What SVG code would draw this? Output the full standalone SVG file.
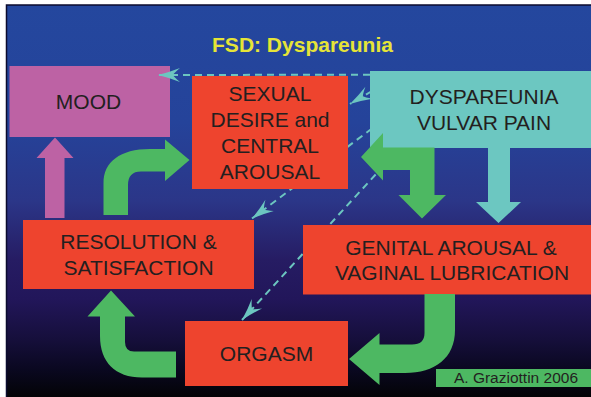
<svg xmlns="http://www.w3.org/2000/svg" width="591" height="397" viewBox="0 0 591 397">
<defs>
<linearGradient id="bg" x1="0" y1="5" x2="0" y2="397" gradientUnits="userSpaceOnUse">
<stop offset="0" stop-color="#24479e"/>
<stop offset="0.3" stop-color="#25439a"/>
<stop offset="0.5" stop-color="#2b3688"/>
<stop offset="0.65" stop-color="#261c63"/>
<stop offset="0.75" stop-color="#22165a"/>
<stop offset="0.85" stop-color="#160f3c"/>
<stop offset="0.93" stop-color="#0a0820"/>
<stop offset="1" stop-color="#030306"/>
</linearGradient>
<marker id="barb" markerUnits="userSpaceOnUse" markerWidth="30" markerHeight="20" viewBox="-24 -10 26 20" refX="0" refY="0" orient="auto" overflow="visible">
<path d="M0,0 Q-12,-3 -22,-7 Q-16,-2 -15,0 Q-16,2 -22,7 Q-12,3 0,0 Z" fill="#6cc6c0"/>
</marker>
<style>
.lbl{font-family:"Liberation Sans",Arial,sans-serif;font-size:21px;fill:#231f20;text-anchor:middle}
.red{fill:#ee442e}
.dash{fill:none;stroke:#6cc6c0;stroke-width:2;stroke-dasharray:7 5;marker-end:url(#barb)}
.green{fill:#4db862}
</style>
</defs>
<rect x="0" y="0" width="591" height="397" fill="#ffffff"/>
<rect x="6.5" y="5" width="590" height="397" fill="url(#bg)" stroke="#0b0b2e" stroke-width="1.5"/>
<text x="302.5" y="52" font-family="'Liberation Sans',Arial,sans-serif" font-size="21" font-weight="bold" fill="#e6e437" text-anchor="middle">FSD: Dyspareunia</text>

<g id="mood">
<rect x="9.5" y="66" width="160.5" height="71" fill="#bd62a4"/>
<text class="lbl" x="88.5" y="109">MOOD</text>
</g>

<g id="connectors">
<line class="dash" x1="370" y1="74.7" x2="158" y2="75"/>
<line class="dash" x1="372" y1="91" x2="350" y2="104"/>
<line class="dash" x1="372" y1="128.5" x2="252" y2="218.5"/>
<line class="dash" x1="400" y1="148" x2="242" y2="320"/>
</g>

<g id="desire">
<rect class="red" x="192" y="76" width="156" height="113"/>
<text class="lbl" x="270" y="100.5">SEXUAL</text>
<text class="lbl" x="270" y="126.5">DESIRE and</text>
<text class="lbl" x="270" y="152.5">CENTRAL</text>
<text class="lbl" x="270" y="178.5">AROUSAL</text>
</g>

<g id="dyspareunia">
<rect x="370" y="71" width="221" height="77" fill="#6cc7c1"/>
<text class="lbl" x="484" y="104.3">DYSPAREUNIA</text>
<text class="lbl" x="484" y="130">VULVAR PAIN</text>
</g>

<g id="resolution">
<rect class="red" x="23" y="220" width="231" height="69"/>
<text class="lbl" x="138.5" y="249">RESOLUTION &amp;</text>
<text class="lbl" x="138.5" y="275">SATISFACTION</text>
</g>

<g id="genital">
<rect class="red" x="303" y="225" width="288" height="69.5"/>
<text class="lbl" x="451" y="254.5">GENITAL AROUSAL &amp;</text>
<text class="lbl" x="452" y="280">VAGINAL LUBRICATION</text>
</g>

<g id="orgasm">
<rect class="red" x="185" y="321" width="163" height="65"/>
<text class="lbl" x="266.5" y="361">ORGASM</text>
</g>

<g id="flow-arrows">
<polygon fill="#bd62a4" points="55,137.5 73.5,158 64.5,158 64.5,218 45,218 45,158 36.5,158"/>
<path class="green" d="M103.5,215 L103.5,183 C103.5,162 120,149 150,149 L165,149 L165,139.5 L189.5,160 L165,181 L165,171.5 L141,171.5 Q128,171.5 128,185 L128,215 Z"/>
<path class="green" d="M111,290.5 L135,316.5 L125,316.5 L125,342 Q125,351.5 134,351.5 L176,351.5 L176,377.5 L142,377.5 C115,377.5 100,362 100,336 L100,316.5 L87.5,316.5 Z"/>
<path class="green" d="M424.5,294 L424.5,333 Q424.5,344.5 412,344.5 L379.5,344.5 L379.5,333 L349,359 L379.5,385 L379.5,373 L405,373 C435,373 455,358 455,330 L455,294 Z"/>
<polygon class="green" points="361,157 383,133 383,147.5 434.5,147.5 434.5,195 446,195 422,218.5 398.5,195 410,195 410,170 383,170 383,180.5"/>
<polygon fill="#6cc7c1" points="488,148 510,148 510,202 521,202 498.5,223 476,202 488,202"/>
</g>

<g id="credit">
<rect x="436" y="369" width="155" height="18" fill="#4db862"/>
<text x="516" y="382.7" font-family="'Liberation Sans',Arial,sans-serif" font-size="15.5" fill="#231f20" text-anchor="middle">A. Graziottin 2006</text>
</g>
</svg>
